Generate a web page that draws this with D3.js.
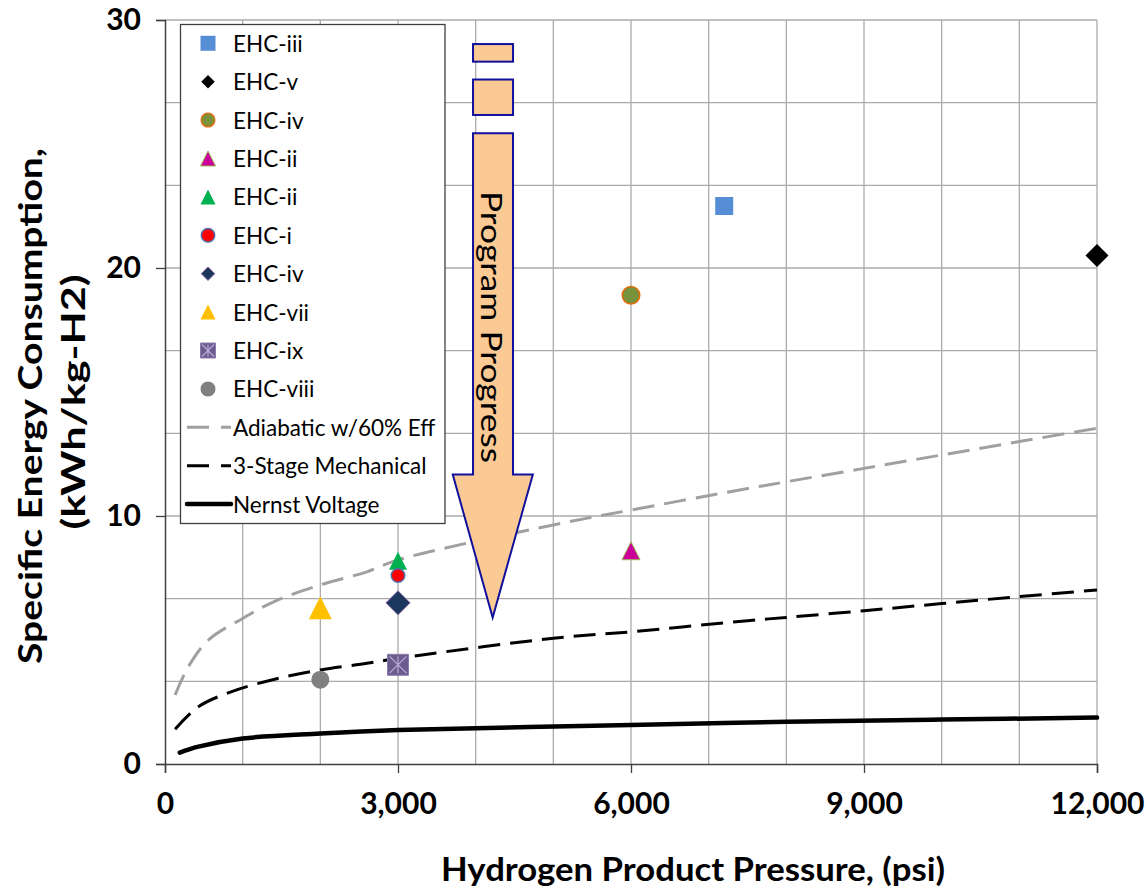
<!DOCTYPE html>
<html>
<head>
<meta charset="utf-8">
<script src="https://cdn.jsdelivr.net/npm/d3@7"></script>
<style>
  body { margin: 0; background: #fff; }
  svg { display: block; }
</style>
</head>
<body>
<svg id="chart" width="1147" height="889"></svg>
<script>
// ---- Measured EHC results ----
const pointLabels   = ["EHC-iii", "EHC-v", "EHC-iv", "EHC-ii", "EHC-ii", "EHC-i", "EHC-iv", "EHC-vii", "EHC-ix", "EHC-viii"];
const pointPressure = [7200, 12000, 6000, 6000, 3000, 3000, 3000, 2000, 3000, 2000];
const pointEnergy   = [22.5, 20.5, 18.9, 8.6, 8.2, 7.6, 6.5, 6.3, 4.0, 3.4];

// ---- Reference curves ----
const adiabaticPressure = [130, 300, 560, 1000, 1400, 2000, 2600, 3000, 5000, 6000, 7400, 8000, 9000, 10000, 11000, 12000];
const adiabaticEnergy   = [2.78, 3.92, 5.0, 5.87, 6.54, 7.22, 7.75, 8.23, 9.64, 10.24, 11.05, 11.38, 11.92, 12.46, 13.0, 13.54];

const mechanicalPressure = [130, 430, 860, 1400, 2000, 2600, 3000, 5000, 6000, 7500, 8000, 9000, 10000, 11000, 12000];
const mechanicalEnergy   = [1.40, 2.31, 2.92, 3.41, 3.79, 4.06, 4.26, 5.07, 5.33, 5.78, 5.91, 6.18, 6.47, 6.75, 7.02];

const nernstPressure = [190, 430, 1000, 2000, 3000, 6000, 8000, 10000, 12000];
const nernstEnergy   = [0.46, 0.70, 1.03, 1.23, 1.37, 1.57, 1.70, 1.79, 1.87];

const curveLabels = ["Adiabatic w/60% Eff", "3-Stage Mechanical", "Nernst Voltage"];

// ---- Axis ticks ----
const xTickValues = [0, 3000, 6000, 9000, 12000];
const yTickValues = [0, 10, 20, 30];

// ---- Marker styling per series ----
const markerStyle = [
  { shape: "square",   size: 18, fill: "#558ED5", stroke: "#558ED5", sw: 0 },
  { shape: "diamond",  size: 23, fill: "#000000", stroke: "#000000", sw: 0 },
  { shape: "circle",   size: 19, fill: "#77933C", stroke: "#E46C0A", sw: 1.5 },
  { shape: "triangle", size: 18, fill: "#CC0099", stroke: "#9BBB59", sw: 1 },
  { shape: "triangle", size: 18, fill: "#00B050", stroke: "#00B050", sw: 0 },
  { shape: "circle",   size: 15, fill: "#FF0000", stroke: "#4F6FA8", sw: 1.5 },
  { shape: "diamond",  size: 24, fill: "#1B375E", stroke: "#8064A2", sw: 1 },
  { shape: "triangle", size: 23, fill: "#FFC000", stroke: "#FFC000", sw: 0 },
  { shape: "star",     size: 21, fill: "#6B5B8E", stroke: "#8C7DAE", sw: 1 },
  { shape: "circle",   size: 18, fill: "#808080", stroke: "#808080", sw: 0 }
];

const curveStyle = [
  { color: "#A0A0A0", width: 3,   dash: "22,10" },
  { color: "#000000", width: 3,   dash: "22,10" },
  { color: "#000000", width: 4.5, dash: null }
];

const svg = d3.select("#chart");
const FONT = "Lato, 'Open Sans', sans-serif";

const x = d3.scaleLinear().domain([0, 12000]).range([165, 1097]);
const y = d3.scaleLinear().domain([0, 30]).range([764, 20]);

// ---- Gridlines ----
const grid = svg.append("g").attr("stroke", "#ABABAB").attr("stroke-width", 1.3);
grid.selectAll("line.v").data(d3.range(1000, 12001, 1000)).join("line")
  .attr("x1", d => x(d)).attr("x2", d => x(d))
  .attr("y1", y(0)).attr("y2", y(30));
grid.selectAll("line.h").data(d3.range(1, 10).map(k => k * 10 / 3)).join("line")
  .attr("x1", x(0)).attr("x2", x(12000))
  .attr("y1", d => y(d)).attr("y2", d => y(d));

// ---- Axes ----
const xAxis = d3.axisBottom(x).tickValues(xTickValues).tickSize(9).tickFormat(d3.format(","));
const yAxis = d3.axisLeft(y).tickValues(yTickValues).tickSize(9).tickFormat(d3.format("d"));

const gx = svg.append("g").attr("transform", `translate(0,${y(0)})`).call(xAxis);
const gy = svg.append("g").attr("transform", `translate(${x(0)},0)`).call(yAxis);
[gx, gy].forEach(g => {
  g.select(".domain").attr("stroke", "#404040").attr("stroke-width", 1.5);
  g.selectAll(".tick line").attr("stroke", "#404040").attr("stroke-width", 1.3);
  g.selectAll(".tick text").attr("fill", "#000").style("font-family", FONT)
    .style("font-weight", "bold").style("font-size", "30px");
});
gx.selectAll(".tick text").attr("dy", null).attr("y", 42).attr("dominant-baseline", "middle");
gy.selectAll(".tick text").attr("x", -24).attr("dy", null).attr("y", 2).attr("dominant-baseline", "middle");

// ---- Axis titles ----
svg.append("text")
  .attr("x", 693).attr("y", 881)
  .attr("text-anchor", "middle")
  .attr("textLength", 504).attr("lengthAdjust", "spacingAndGlyphs")
  .style("font-family", FONT).style("font-weight", "bold").style("font-size", "33px")
  .text("Hydrogen Product Pressure, (psi)");

svg.append("text")
  .attr("transform", "translate(42,406) rotate(-90)")
  .attr("text-anchor", "middle")
  .attr("textLength", 516).attr("lengthAdjust", "spacingAndGlyphs")
  .style("font-family", FONT).style("font-weight", "bold").style("font-size", "33px")
  .text("Specific Energy Consumption,");
svg.append("text")
  .attr("transform", "translate(85,402) rotate(-90)")
  .attr("text-anchor", "middle")
  .attr("textLength", 255).attr("lengthAdjust", "spacingAndGlyphs")
  .style("font-family", FONT).style("font-weight", "bold").style("font-size", "33px")
  .text("(kWh/kg-H2)");

// ---- Reference curves ----
const curveSets = [
  d3.zip(adiabaticPressure, adiabaticEnergy),
  d3.zip(mechanicalPressure, mechanicalEnergy),
  d3.zip(nernstPressure, nernstEnergy)
];
const line = d3.line().x(d => x(d[0])).y(d => y(d[1])).curve(d3.curveCatmullRom.alpha(0.5));
svg.append("g").selectAll("path").data(curveSets).join("path")
  .attr("d", line)
  .attr("fill", "none")
  .attr("stroke", (d, i) => curveStyle[i].color)
  .attr("stroke-width", (d, i) => curveStyle[i].width)
  .attr("stroke-dasharray", (d, i) => curveStyle[i].dash)
  .attr("stroke-linecap", (d, i) => curveStyle[i].dash ? "butt" : "round");

// ---- Marker drawing ----
function drawMarker(g, st, size) {
  const h = size / 2;
  if (st.shape === "circle") {
    g.append("circle").attr("r", h - st.sw / 2)
      .attr("fill", st.fill).attr("stroke", st.stroke).attr("stroke-width", st.sw);
    return;
  }
  let p;
  if (st.shape === "square" || st.shape === "star") p = `M${-h},${-h}H${h}V${h}H${-h}Z`;
  else if (st.shape === "diamond") p = `M0,${-h}L${h},0L0,${h}L${-h},0Z`;
  else p = `M0,${-h}L${h},${h}L${-h},${h}Z`;
  g.append("path").attr("d", p)
    .attr("fill", st.fill)
    .attr("stroke", st.sw ? st.stroke : "none")
    .attr("stroke-width", st.sw);
  if (st.shape === "star") {
    const k = h * 0.8;
    g.append("path")
      .attr("d", `M${-k},${-k}L${k},${k}M${k},${-k}L${-k},${k}M0,${-k}L0,${k}`)
      .attr("stroke", "#B8ACD6").attr("stroke-width", 1.2).attr("fill", "none");
  }
}

// ---- Program progress arrow ----
const arrowPressure = { shaftL: 3966, shaftR: 4481, headL: 3705, headR: 4736, tip: 4219 };
const arrowEnergy = { box1Top: 29.03, box1Bot: 28.32, box2Top: 27.6, box2Bot: 26.17, shaftTop: 25.43, headBase: 11.67, tip: 5.91 };
const arrow = svg.append("g").attr("fill", "#FBC993").attr("stroke", "#10109C").attr("stroke-width", 2);
[[arrowEnergy.box1Top, arrowEnergy.box1Bot], [arrowEnergy.box2Top, arrowEnergy.box2Bot]].forEach(([t, b]) => {
  arrow.append("rect")
    .attr("x", x(arrowPressure.shaftL)).attr("y", y(t))
    .attr("width", x(arrowPressure.shaftR) - x(arrowPressure.shaftL))
    .attr("height", y(b) - y(t));
});
arrow.append("path").attr("d", [
  [arrowPressure.shaftL, arrowEnergy.shaftTop],
  [arrowPressure.shaftR, arrowEnergy.shaftTop],
  [arrowPressure.shaftR, arrowEnergy.headBase],
  [arrowPressure.headR, arrowEnergy.headBase],
  [arrowPressure.tip, arrowEnergy.tip],
  [arrowPressure.headL, arrowEnergy.headBase],
  [arrowPressure.shaftL, arrowEnergy.headBase]
].map((p, i) => (i ? "L" : "M") + x(p[0]) + "," + y(p[1])).join("") + "Z");
svg.append("text")
  .attr("transform", `translate(${x(arrowPressure.tip) - 1},327) rotate(90)`)
  .attr("text-anchor", "middle").attr("dominant-baseline", "central")
  .attr("textLength", 272).attr("lengthAdjust", "spacingAndGlyphs")
  .style("font-family", FONT).style("font-size", "28px")
  .text("Program Progress");

// ---- Legend ----
const legend = svg.append("g");
legend.append("rect")
  .attr("x", 180.5).attr("y", 24.5).attr("width", 264.5).attr("height", 499)
  .attr("fill", "#fff").attr("stroke", "#404040").attr("stroke-width", 1.3);
const rowY = i => 43.3 + i * 38.4;
pointLabels.forEach((lab, i) => {
  const st = markerStyle[i];
  const s = Math.min(st.size, 15) * (st.shape === "diamond" ? 0.9 : 1);
  const g = legend.append("g").attr("transform", `translate(208,${rowY(i)})`);
  drawMarker(g, st, s);
  legend.append("text").attr("x", 233).attr("y", rowY(i)).attr("dominant-baseline", "central")
    .style("font-family", FONT).style("font-size", "22.5px").text(lab);
});
curveLabels.forEach((lab, j) => {
  const i = pointLabels.length + j;
  const st = curveStyle[j];
  legend.append("line").attr("x1", 187).attr("x2", 231).attr("y1", rowY(i)).attr("y2", rowY(i))
    .attr("stroke", st.color).attr("stroke-width", st.width)
    .attr("stroke-dasharray", st.dash ? "22,12" : null)
    .attr("stroke-linecap", st.dash ? "butt" : "round");
  legend.append("text").attr("x", 233).attr("y", rowY(i)).attr("dominant-baseline", "central")
    .style("font-family", FONT).style("font-size", "22.5px").text(lab);
});

// ---- Data markers ----
svg.append("g").selectAll("g").data(d3.range(pointLabels.length)).join("g")
  .attr("transform", i => `translate(${x(pointPressure[i])},${y(pointEnergy[i])})`)
  .each(function (i) { drawMarker(d3.select(this), markerStyle[i], markerStyle[i].size); });
</script>
</body>
</html>
